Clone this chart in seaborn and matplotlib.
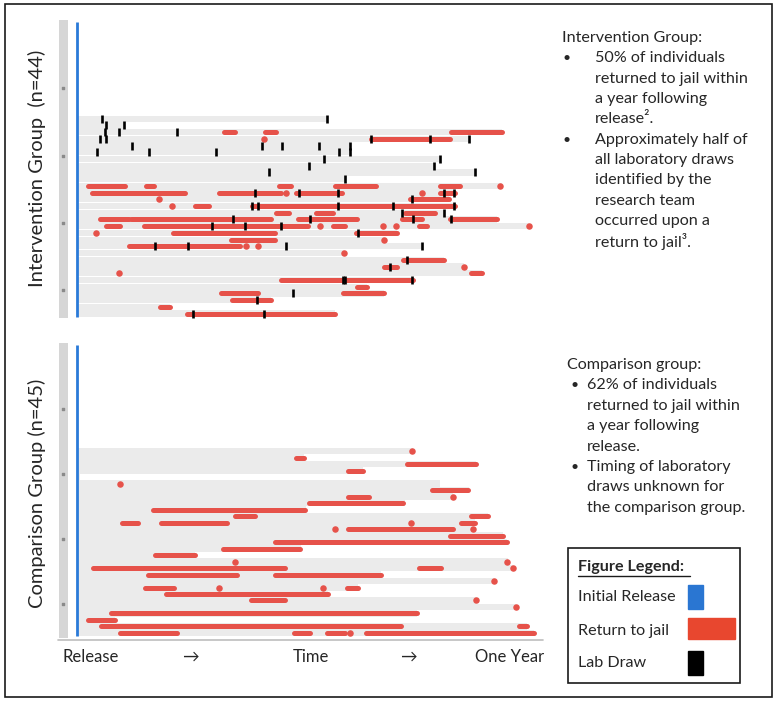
import numpy as np
import pandas as pd
import seaborn as sns
from matplotlib import pyplot as plt
from matplotlib.patches import Rectangle

sns.set_style('white')
plt.rcParams['font.family'] = ['Lato', 'DejaVu Sans']

W, H = 777, 710

# days since release, row index counted from the top of each panel
# intervention group (n=44), rows 0-13 have nothing drawn
int_rows = [14, 15, 16, 17, 18, 19, 20, 21, 22, 23, 24, 25, 26, 27, 28,
            29, 30, 31, 32, 33, 34, 35, 36, 37, 38, 39, 40, 41, 42, 43]
int_end = [198, 37, 337, 311, 217, 217, 288, 283, 316, 213, 337, 301, 295, 301, 291,
           333, 359, 254, 244, 274, 212, 291, 307, 321, 267, 230, 244, 154, 74, 205]
int_jail = [(16, 117, 125), (16, 149, 158), (16, 297, 337), (17, 233, 296),
            (24, 9, 38), (24, 55, 61), (24, 160, 170), (24, 205, 237), (24, 288, 304),
            (25, 12, 86), (25, 113, 162), (25, 174, 210), (25, 288, 300),
            (26, 264, 295), (27, 94, 105), (27, 139, 300),
            (28, 158, 168), (28, 190, 203), (28, 260, 284),
            (29, 18, 41), (29, 43, 154), (29, 175, 222), (29, 258, 274), (29, 296, 333),
            (30, 23, 34), (30, 53, 183), (30, 203, 213), (30, 271, 278),
            (31, 76, 157), (31, 221, 254), (32, 122, 157), (33, 41, 129),
            (35, 259, 291), (36, 244, 254), (37, 313, 321), (38, 162, 267),
            (39, 222, 230), (40, 114, 144), (40, 211, 244), (41, 123, 154),
            (42, 66, 74), (43, 87, 205)]
int_dots = [(17, 148), (24, 336), (25, 166), (25, 274), (26, 65), (27, 75),
            (30, 193), (30, 243), (30, 253), (30, 359), (31, 15), (32, 244),
            (33, 134), (33, 144), (34, 212), (36, 307), (37, 33)]
int_labs = [(14, 20), (14, 198), (15, 23), (15, 37), (16, 22), (16, 33), (16, 79),
            (17, 18), (17, 23), (17, 233), (17, 280), (17, 311),
            (18, 44), (18, 147), (18, 163), (18, 192), (18, 217),
            (19, 16), (19, 57), (19, 110), (19, 208), (19, 217),
            (20, 196), (20, 288), (21, 184), (21, 283), (22, 152), (22, 316), (23, 213),
            (25, 141), (25, 176), (25, 207), (25, 291), (25, 299), (26, 266),
            (27, 139), (27, 144), (27, 207), (27, 251), (27, 299), (28, 258), (28, 291),
            (29, 124), (29, 185), (29, 267), (29, 297), (30, 107), (30, 133), (30, 162),
            (31, 223), (33, 62), (33, 88), (33, 166), (33, 274), (35, 262), (36, 248),
            (38, 211), (38, 213), (38, 266), (40, 171), (41, 143), (43, 92), (43, 148)]

# comparison group (n=45), rows 0-15 have nothing drawn
cmp_rows = [16, 17, 18, 19, 20, 21, 22, 23, 24, 25, 26, 27, 28, 29, 30,
            31, 32, 33, 34, 35, 36, 37, 38, 39, 40, 41, 42, 43, 44]
cmp_end = [267, 180, 317, 227, 2, 288, 311, 298, 260, 182, 326, 316, 314, 338, 341,
           178, 94, 342, 346, 241, 331, 223, 199, 317, 348, 270, 30, 357, 363]
cmp_jail = [(17, 174, 180), (18, 262, 317), (19, 215, 227), (22, 282, 310),
            (23, 215, 232), (24, 184, 259), (25, 60, 181), (26, 125, 141), (26, 313, 326),
            (27, 36, 48), (27, 67, 119), (27, 305, 316), (28, 215, 298), (29, 296, 338),
            (30, 157, 341), (31, 116, 177), (32, 62, 94), (34, 13, 165), (34, 271, 289),
            (35, 56, 127), (35, 157, 241), (37, 54, 77), (37, 214, 223), (38, 71, 199),
            (39, 138, 165), (41, 27, 270), (42, 9, 30), (43, 19, 257), (43, 351, 357),
            (44, 34, 79), (44, 172, 185), (44, 198, 213), (44, 229, 363)]
cmp_dots = [(16, 266), (21, 34), (23, 298), (27, 265), (28, 205), (28, 314),
            (33, 125), (33, 341), (34, 346), (36, 331), (37, 113), (37, 195),
            (39, 317), (40, 348), (44, 217)]

RED = '#e6524a'
BLUE = '#2a7ad8'


def draw_panel(ax, n, rows, ends, jail, dots, labs, ylim):
    ax.set_facecolor('#f8f8f8')
    ax.axvspan(-14.3, -7.1, color='#d6d6d6', lw=0)
    ax.barh(rows, ends, left=0, height=0.93, color='#ebebeb', lw=0)
    jail = pd.DataFrame(jail, columns=['row', 'start', 'end'])
    ax.hlines(jail['row'], jail['start'], jail['end'], color=RED, lw=3.6,
              capstyle='round', zorder=3)
    dots = pd.DataFrame(dots, columns=['row', 'day'])
    sns.scatterplot(data=dots, x='day', y='row', ax=ax, color=RED, s=22,
                    linewidth=0, zorder=4, legend=False)
    if labs:
        labs = pd.DataFrame(labs, columns=['row', 'day'])
        sns.scatterplot(data=labs, x='day', y='row', ax=ax, marker='|', s=26,
                        linewidth=1.9, color='black', zorder=5, legend=False)
    ax.scatter([-11] * 4, [9.5, 19.5, 29.5, 39.5], marker='s', s=2,
               color='#8a8a8a', zorder=2)
    ax.vlines(0, -0.35, n - 0.5, color=BLUE, lw=2.0, zorder=6)
    ax.set_xlim(-14.3, 367.4)
    ax.set_ylim(*ylim)
    ax.axis('off')


def px_rect(left, top, right, bottom):
    return [left / W, 1 - bottom / H, (right - left) / W, (bottom - top) / H]


fig = plt.figure(figsize=(W / 100, H / 100), dpi=100)
ax1 = fig.add_axes(px_rect(59, 20, 540, 318))
ax2 = fig.add_axes(px_rect(59, 343, 540, 638))
draw_panel(ax1, 44, int_rows, int_end, int_jail, int_dots, int_labs, (43.66, -0.68))
draw_panel(ax2, 45, cmp_rows, cmp_end, cmp_jail, cmp_dots, None, (44.77, -0.62))

# overlay in pixel coordinates for the text, legend box and frame
ov = fig.add_axes([0, 0, 1, 1])
ov.set_xlim(0, W)
ov.set_ylim(H, 0)
ov.axis('off')

ov.add_patch(Rectangle((5, 4), 767, 693, fill=False, ec='#1a1a1a', lw=1.2))
ov.plot([58, 543], [640, 640], color='#bdbdbd', lw=1.2)

ov.text(37, 168, 'Intervention Group  (n=44)', rotation=90, ha='center',
        va='center', fontsize=14.5)
ov.text(37, 493, 'Comparison Group (n=45)', rotation=90, ha='center',
        va='center', fontsize=14.5)

for x, s in [(91, 'Release'), (190, '\u2192'), (311, 'Time'), (408, '\u2192'),
             (510, 'One Year')]:
    ov.text(x, 657, s, ha='center', va='center', fontsize=12)

fs = 11.6
ov.text(562, 38, 'Intervention Group:', va='center', fontsize=fs)
top_lines = ['50% of individuals', 'returned to jail within', 'a year following',
             'release\u00b2.', 'Approximately half of', 'all laboratory draws',
             'identified by the', 'research team', 'occurred upon a',
             'return to jail\u00b3.']
top_y = [58, 79, 99, 119, 140, 160, 180, 201, 221, 241]
for y, s in zip(top_y, top_lines):
    ov.text(595, y, s, va='center', fontsize=fs)
for y in [58, 140]:
    ov.text(563, y, '\u2022', va='center', fontsize=10)

ov.text(567, 365, 'Comparison group:', va='center', fontsize=fs)
bot_lines = ['62% of individuals', 'returned to jail within', 'a year following',
             'release.', 'Timing of laboratory', 'draws unknown for',
             'the comparison group.']
bot_y = [385, 406, 426, 447, 467, 487, 508]
for y, s in zip(bot_y, bot_lines):
    ov.text(587, y, s, va='center', fontsize=fs)
for y in [385, 467]:
    ov.text(571, y, '\u2022', va='center', fontsize=10)

# figure legend box
ov.add_patch(Rectangle((568, 548), 172, 135, fill=False, ec='#1a1a1a', lw=1.2))
ov.text(578, 567, 'Figure Legend:', va='center', fontsize=fs, fontweight='bold')
ov.plot([578, 690], [576, 576], color='#1a1a1a', lw=1)
ov.text(578, 597, 'Initial Release', va='center', fontsize=fs)
ov.text(578, 631, 'Return to jail', va='center', fontsize=fs)
ov.text(578, 663, 'Lab Draw', va='center', fontsize=fs)
ov.add_patch(Rectangle((688, 585), 15, 24, color='#2a76d2'))
ov.add_patch(Rectangle((688, 618), 47, 21, color='#e8472f'))
ov.add_patch(Rectangle((688, 651), 15, 24, color='black'))

fig.savefig('out.png', dpi=100)
